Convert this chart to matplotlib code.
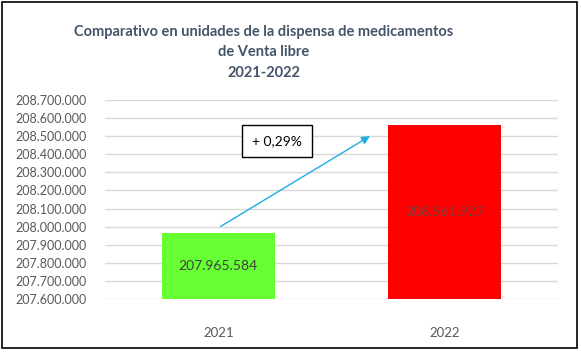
import matplotlib.pyplot as plt
from matplotlib.patches import Rectangle
from matplotlib.ticker import FuncFormatter

years = ['2021', '2022']
units = [207965584, 208561927]
bar_colors = ['#66FF33', '#FF0000']
label_colors = ['#404040', '#7F3F3F']
change_text = '+ 0,29%'
yticks = [207600000 + i * 100000 for i in range(12)]

plt.rcParams['font.family'] = ['Lato', 'DejaVu Sans']

fig = plt.figure(figsize=(5.81, 3.52), dpi=100)
ax = fig.add_axes([105 / 581, 53 / 352, 453 / 581, 199 / 352])

x = list(range(len(years)))
ax.bar(x, units, width=0.5, color=bar_colors, bottom=0, zorder=3)
ax.set_xlim(-0.5, 1.5)
ax.set_ylim(yticks[0], yticks[-1])
ax.set_yticks(yticks)
ax.yaxis.set_major_formatter(FuncFormatter(lambda v, p: f'{int(v):,}'.replace(',', '.')))
ax.set_xticks(x)
ax.set_xticklabels(years)
ax.tick_params(axis='both', length=0, labelsize=9, colors='#595959')
ax.tick_params(axis='x', pad=20, labelsize=9.5)
ax.tick_params(axis='y', pad=13)
ax.grid(axis='y', color='#D9D9D9', linewidth=1, zorder=0)
for s in ax.spines.values():
    s.set_visible(False)

for i, v in enumerate(units):
    mid = (yticks[0] + v) / 2
    ax.text(i, mid, f'{v:,}'.replace(',', '.'), ha='center', va='center',
            fontsize=10, color=label_colors[i], zorder=4)

ax.annotate('', xy=(0.68, units[0] + 0.91 * (units[1] - units[0])),
            xytext=(0.0, 207993000),
            arrowprops=dict(arrowstyle='-|>', color='#1CADE4', lw=1,
                            mutation_scale=12), zorder=4)
ax.text(0.26, 208473000, change_text, ha='center', va='center', fontsize=10,
        color='black', zorder=5,
        bbox=dict(boxstyle='square,pad=0.7', facecolor='white',
                  edgecolor='black', linewidth=1))

fig.text(264 / 581, 0.93,
         'Comparativo en unidades de la dispensa de medicamentos\nde Venta libre\n2021-2022',
         ha='center', va='top', fontsize=10.5, fontweight='bold', color='#44546A',
         linespacing=1.6)

fig.patches.append(Rectangle((2 / 581, 4 / 352), 575 / 581, 346 / 352,
                             transform=fig.transFigure, fill=False,
                             edgecolor='black', linewidth=1.2))

fig.savefig('out.png', dpi=100)
